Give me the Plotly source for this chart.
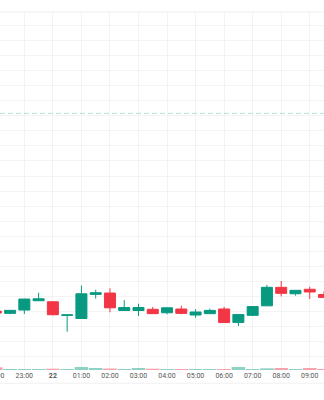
import plotly.graph_objects as go
from datetime import datetime

times = [
    "2024-03-21 22:00", "2024-03-21 22:30", "2024-03-21 23:00", "2024-03-21 23:30",
    "2024-03-22 00:00", "2024-03-22 00:30", "2024-03-22 01:00", "2024-03-22 01:30",
    "2024-03-22 02:00", "2024-03-22 02:30", "2024-03-22 03:00", "2024-03-22 03:30",
    "2024-03-22 04:00", "2024-03-22 04:30", "2024-03-22 05:00", "2024-03-22 05:30",
    "2024-03-22 06:00", "2024-03-22 06:30", "2024-03-22 07:00", "2024-03-22 07:30",
    "2024-03-22 08:00", "2024-03-22 08:30", "2024-03-22 09:00", "2024-03-22 09:30",
]
opens  = [130.3, 128.8, 131.0, 137.2, 136.5, 127.5, 125.4, 141.4, 142.3, 130.7, 130.7, 131.5,
          129.2, 131.7, 127.7, 128.6, 131.7, 122.8, 127.5, 133.8, 146.1, 141.8, 144.8, 141.3]
highs  = [130.6, 131.0, 138.5, 142.5, 136.5, 127.8, 147.3, 144.5, 145.4, 137.6, 135.2, 133.1,
          132.8, 133.9, 131.5, 131.9, 133.1, 128.0, 133.3, 147.7, 150.3, 144.1, 146.5, 143.6]
lows   = [128.8, 128.2, 128.4, 137.2, 127.5, 116.6, 125.2, 138.6, 129.5, 130.7, 127.0, 128.6,
          128.2, 128.2, 125.9, 128.4, 122.7, 120.4, 127.0, 133.8, 140.1, 140.6, 138.3, 139.0]
closes = [129.0, 130.8, 138.3, 138.5, 127.9, 127.8, 141.8, 142.5, 132.5, 132.7, 132.7, 128.6,
          132.5, 128.8, 129.7, 130.8, 122.7, 128.0, 133.3, 146.1, 142.1, 144.1, 143.0, 139.4]
volumes = [270, 100, 100, 100, 130, 100, 300, 200, 150, 100, 200, 130,
           100, 100, 100, 100, 100, 300, 100, 170, 200, 100, 200, 100]

tick_vals = ["2024-03-21 22:00", "2024-03-21 23:00", "2024-03-22 00:00", "2024-03-22 01:00",
             "2024-03-22 02:00", "2024-03-22 03:00", "2024-03-22 04:00", "2024-03-22 05:00",
             "2024-03-22 06:00", "2024-03-22 07:00", "2024-03-22 08:00", "2024-03-22 09:00"]
tick_text = ["22:00", "23:00", "<b>22</b>", "01:00", "02:00", "03:00", "04:00", "05:00",
             "06:00", "07:00", "08:00", "09:00"]
price_line = 261.6

GREEN = "#089981"
RED = "#F23645"
x_range = ["2024-03-21 22:08:50", "2024-03-22 09:30:00"]

vol_colors = ["rgba(8,153,129,0.45)" if c >= o else "rgba(242,54,69,0.45)"
              for o, c in zip(opens, closes)]

fig = go.Figure()
fig.add_trace(go.Bar(
    x=times, y=volumes, marker=dict(color=vol_colors, line=dict(width=0)),
    width=1800000 * 0.95, yaxis="y2", hoverinfo="skip", showlegend=False,
))
fig.add_trace(go.Candlestick(
    x=times, open=opens, high=highs, low=lows, close=closes,
    increasing=dict(line=dict(color=GREEN, width=1), fillcolor=GREEN),
    decreasing=dict(line=dict(color=RED, width=1), fillcolor=RED),
    whiskerwidth=0, showlegend=False,
))

fig.add_shape(type="line", xref="paper", yref="y", x0=0, x1=1, y0=price_line, y1=price_line,
              line=dict(color="rgba(8,153,129,0.3)", width=1, dash="5px,3px"))
fig.add_shape(type="line", xref="paper", yref="paper", x0=0, x1=1, y0=1, y1=1,
              line=dict(color="#f0f0f0", width=1))
fig.add_shape(type="line", xref="paper", yref="paper", x0=0, x1=1, y0=-0.037, y1=-0.037,
              line=dict(color="#f0f0f0", width=1))

# clipped first label (22:00) at the left edge
t0 = datetime.fromisoformat(x_range[0]).timestamp()
t1 = datetime.fromisoformat(x_range[1]).timestamp()
tl = datetime.fromisoformat(tick_vals[0]).timestamp()
fig.add_annotation(x=(tl - t0) / (t1 - t0), xref="paper", y=-0.017, yref="paper",
                   text=tick_text[0], showarrow=False, xanchor="center", yanchor="middle",
                   font=dict(family="Roboto", size=7, color="#555"))

fig.update_layout(
    width=324, height=400,
    margin=dict(l=0, r=0, t=12, b=30),
    paper_bgcolor="white", plot_bgcolor="white",
    boxgap=0.23, boxgroupgap=0,
    xaxis=dict(
        type="date", range=x_range, rangeslider=dict(visible=False),
        tickvals=tick_vals, ticktext=tick_text, showgrid=True, gridcolor="#f3f3f3",
        gridwidth=1, zeroline=False, showline=False, ticks="",
        tickfont=dict(family="Roboto", size=7, color="#555"),
    ),
    yaxis=dict(
        range=[91.2, 328.9], dtick=10, tick0=100, showgrid=True, gridcolor="#f3f3f3",
        showticklabels=False, zeroline=False, ticks="",
    ),
    yaxis2=dict(overlaying="y", range=[0, 35800], visible=False, showgrid=False),
    hovermode=False,
)

fig.write_html("out.html")
